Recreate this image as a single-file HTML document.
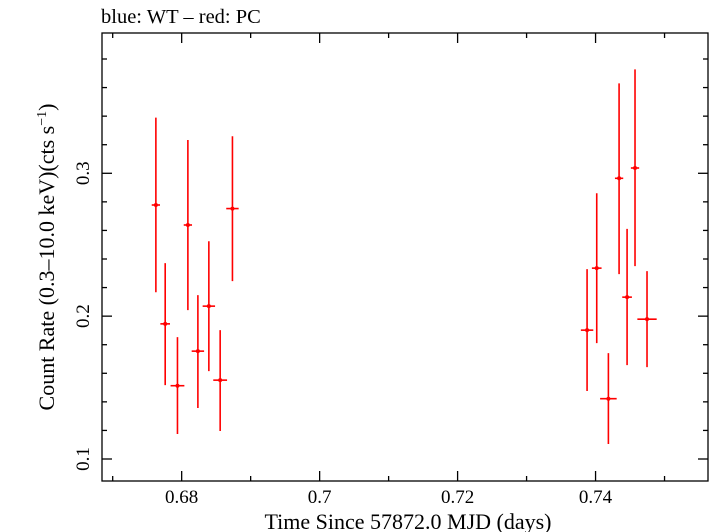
<!DOCTYPE html>
<html><head><meta charset="utf-8"><style>
body{margin:0;background:#fff;}
svg{display:block;font-family:"Liberation Serif",serif;}
</style></head><body>
<svg id="chart" width="709" height="532" viewBox="0 0 709 532">
<text x="101" y="23" font-size="20.5">blue: WT – red: PC</text>
<text x="408" y="529" font-size="22" text-anchor="middle">Time Since 57872.0 MJD (days)</text>
<text transform="translate(54,257) rotate(-90)" font-size="22" text-anchor="middle">Count Rate (0.3–10.0 keV)(cts s<tspan dy="-8" font-size="14">−1</tspan><tspan dy="8">)</tspan></text>
<g id="marks"></g>
<rect x="102" y="33" width="606" height="448" fill="none" stroke="#000" stroke-width="1.3"/>
</svg>
<script>
const xTicks=[0.68,0.70,0.72,0.74];
const xTickLabels=["0.68","0.7","0.72","0.74"];
const yTicks=[0.1,0.2,0.3];
const yTickLabels=["0.1","0.2","0.3"];
const times=[0.67626,0.67761,0.67939,0.6809,0.68235,0.68394,0.68558,0.68736,0.73877,0.74017,0.74186,0.74341,0.74457,0.74572,0.74746];
const timeHalfWidth=[0.0006,0.0007,0.001,0.0006,0.0009,0.0009,0.001,0.0009,0.0009,0.0007,0.0012,0.0006,0.0007,0.0006,0.0014];
const rates=[0.2778,0.1946,0.1513,0.2638,0.1755,0.2070,0.1552,0.2753,0.1902,0.2336,0.1422,0.2965,0.2133,0.3037,0.1979];
const rateHi=[0.339,0.2371,0.1853,0.3233,0.2147,0.2524,0.1902,0.3259,0.2329,0.2860,0.1741,0.3629,0.2611,0.3727,0.2315];
const rateLo=[0.2167,0.1517,0.1175,0.2042,0.1357,0.1615,0.1196,0.2245,0.1476,0.1811,0.1105,0.2294,0.1657,0.2350,0.1643];
const X0=102,X1=708,Y0=33,Y1=481;
const xMin=0.66845,xMax=0.7563,yMin=0.0846,yMax=0.3982;
const sx=v=>X0+(v-xMin)/(xMax-xMin)*(X1-X0);
const sy=v=>Y1-(v-yMin)/(yMax-yMin)*(Y1-Y0);
const NS="http://www.w3.org/2000/svg";
const g=document.getElementById('marks');
function el(t,a){const e=document.createElementNS(NS,t);for(const k in a)e.setAttribute(k,a[k]);g.appendChild(e);return e;}
for(let i=0;i<=9;i++){const v=0.67+i*0.01;const x=sx(v);if(x<X0||x>X1)continue;
const major=xTicks.some(t=>Math.abs(t-v)<1e-6);const L=major?10:5;
const a=el('line',{x1:x,x2:x,y1:Y1,y2:Y1-L,stroke:'#000','stroke-width':1.3});


const b=el('line',{x1:x,x2:x,y1:Y0,y2:Y0+L,stroke:'#000','stroke-width':1.3});

}
xTicks.forEach((v,i)=>{const t=el('text',{x:sx(v),y:503,'font-size':19,'text-anchor':'middle'});t.textContent=xTickLabels[i];

});
for(let i=0;i<=16;i++){const v=0.08+i*0.02;const y=sy(v);if(y<Y0||y>Y1)continue;
const major=yTicks.some(t=>Math.abs(t-v)<1e-6);const L=major?10:5;
const a=el('line',{x1:X0,x2:X0+L,y1:y,y2:y,stroke:'#000','stroke-width':1.3});


const b=el('line',{x1:X1,x2:X1-L,y1:y,y2:y,stroke:'#000','stroke-width':1.3});

}
yTicks.forEach((v,i)=>{const t=el('text',{transform:`translate(89,${sy(v)}) rotate(-90)`,'font-size':19,'text-anchor':'middle'});t.textContent=yTickLabels[i];

});
times.forEach((t,i)=>{const x=sx(t),y=sy(rates[i]);
const v=el('line',{x1:x,x2:x,y1:sy(rateHi[i]),y2:sy(rateLo[i]),stroke:'#f00','stroke-width':1.6});


const h=el('line',{x1:sx(t-timeHalfWidth[i]),x2:sx(t+timeHalfWidth[i]),y1:y,y2:y,stroke:'#f00','stroke-width':1.6});


const p=el('circle',{cx:x,cy:y,r:2,fill:'#f00'});

});
</script>
</body></html>
